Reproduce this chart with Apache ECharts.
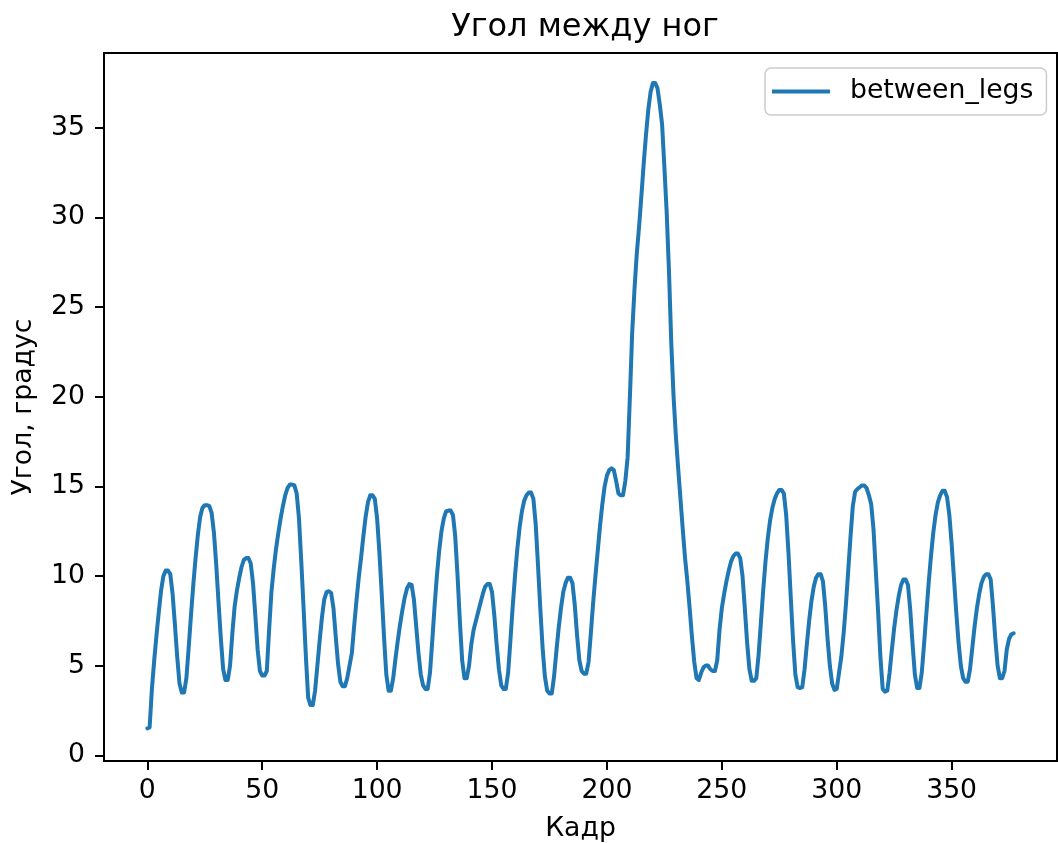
<!DOCTYPE html>
<html>
<head>
<meta charset="utf-8">
<script src="https://cdn.jsdelivr.net/npm/echarts@6/dist/echarts.min.js"></script>
<style>
  html, body { margin: 0; padding: 0; background: #fff; }
  #chart { width: 1058px; height: 843px; }
</style>
</head>
<body>
<div id="chart"></div>
<script>
// Angle between the legs, degrees, per frame (frames 0..377)
const betweenLegs = [
  1.5, 1.55, 3.7, 5.3, 6.7, 8.0, 9.2, 10.0, 10.3, 10.3,
  10.1, 9.0, 7.3, 5.5, 4.0, 3.5, 3.5, 4.3, 6.0, 7.8,
  9.5, 11.0, 12.3, 13.3, 13.8, 13.95, 13.95, 13.9, 13.5, 12.4,
  10.6, 8.5, 6.5, 4.8, 4.2, 4.2, 5.0, 6.8, 8.3, 9.2,
  9.9, 10.5, 10.9, 11.0, 11.0, 10.7, 9.6, 7.8, 5.9, 4.7,
  4.45, 4.45, 4.7, 7.0, 9.1, 10.4, 11.5, 12.4, 13.2, 13.9,
  14.5, 14.9, 15.1, 15.1, 15.05, 14.6, 13.2, 10.8, 8.2, 5.5,
  3.2, 2.8, 2.8, 3.6, 5.0, 6.4, 7.7, 8.7, 9.1, 9.15,
  9.05, 8.2, 6.6, 5.1, 4.1, 3.85, 3.85, 4.3, 5.0, 5.7,
  7.2, 8.6, 9.9, 11.0, 12.2, 13.3, 14.1, 14.5, 14.5, 14.3,
  13.2, 11.3, 9.0, 6.6, 4.5, 3.6, 3.6, 4.3, 5.4, 6.4,
  7.3, 8.1, 8.8, 9.3, 9.55, 9.5, 8.7, 7.2, 5.7, 4.5,
  3.9, 3.7, 3.7, 4.6, 6.4, 8.3, 10.0, 11.4, 12.5, 13.2,
  13.6, 13.65, 13.65, 13.4, 12.2, 10.0, 7.5, 5.3, 4.3, 4.3,
  5.0, 6.2, 7.0, 7.5, 8.0, 8.5, 9.0, 9.4, 9.55, 9.55,
  9.1, 7.8, 6.2, 4.8, 3.9, 3.7, 3.7, 4.6, 6.4, 8.3,
  10.0, 11.5, 12.7, 13.6, 14.2, 14.5, 14.65, 14.65, 14.3, 12.9,
  10.6, 8.2, 6.0, 4.4, 3.6, 3.45, 3.45, 4.4, 5.8, 7.1,
  8.2, 9.1, 9.6, 9.9, 9.9, 9.6, 8.4, 6.7, 5.3, 4.7,
  4.55, 4.55, 5.2, 6.8, 8.5, 10.0, 11.4, 12.8, 14.0, 15.0,
  15.6, 15.9, 16.0, 15.9, 15.3, 14.6, 14.5, 14.5, 15.3, 16.6,
  20.0, 23.6, 26.0, 28.0, 29.5, 31.2, 33.0, 34.6, 36.0, 37.0,
  37.5, 37.5, 37.2, 36.3, 35.2, 32.8, 30.3, 27.0, 23.0, 20.0,
  17.8, 16.0, 14.3, 12.6, 11.0, 9.7, 8.2, 6.6, 5.2, 4.3,
  4.2, 4.6, 4.9, 5.0, 5.0, 4.8, 4.7, 4.7, 5.3, 7.0,
  8.2, 9.0, 9.7, 10.3, 10.8, 11.1, 11.25, 11.25, 11.0, 10.0,
  8.2, 6.3, 4.8, 4.15, 4.15, 4.3, 5.6, 7.4, 9.2, 10.8,
  12.1, 13.1, 13.8, 14.3, 14.6, 14.8, 14.8, 14.6, 13.4, 11.3,
  8.8, 6.4, 4.5, 3.8, 3.75, 3.8, 4.8, 6.2, 7.5, 8.6,
  9.4, 9.9, 10.1, 10.1, 9.7, 8.3, 6.5, 5.0, 4.0, 3.65,
  3.7, 4.6, 5.5, 6.8, 8.4, 10.3, 12.2, 13.9, 14.7, 14.85,
  14.95, 15.05, 15.05, 14.9, 14.5, 14.0, 12.6, 10.3, 8.0, 5.5,
  3.7, 3.55, 3.6, 4.6, 5.9, 7.1, 8.1, 8.9, 9.5, 9.8,
  9.8, 9.5, 8.1, 6.2, 4.5, 3.75, 3.75, 4.6, 6.2, 7.9,
  9.6, 11.1, 12.4, 13.4, 14.1, 14.5, 14.75, 14.75, 14.4, 13.4,
  11.8, 9.9, 8.0, 6.3, 5.0, 4.3, 4.1, 4.1, 4.8, 6.0,
  7.2, 8.2, 9.0, 9.6, 9.95, 10.1, 10.1, 9.8, 8.3, 6.5,
  5.0, 4.3, 4.3, 4.7, 5.9, 6.5, 6.75, 6.8
];

// Tick positions
const xTicks = [0, 50, 100, 150, 200, 250, 300, 350];
const yTicks = [0, 5, 10, 15, 20, 25, 30, 35];

const FONT = 'DejaVu Sans';
const BLUE = '#1f77b4';

const chart = echarts.init(document.getElementById('chart'), null, { renderer: 'canvas' });

const tickStyle = { show: true, inside: false, length: 9, lineStyle: { color: '#000', width: 2 } };

chart.setOption({
  animation: false,
  backgroundColor: '#fff',
  title: {
    text: 'Угол между ног',
    left: 580, textAlign: 'center',
    top: 7,
    textStyle: { fontFamily: FONT, fontSize: 32, fontWeight: 'normal', color: '#000' }
  },
  legend: {
    data: [{ name: 'between_legs', icon: 'rect' }],
    left: 765, top: 68,
    padding: [10, 13, 10, 7],
    itemWidth: 58, itemHeight: 4,
    itemStyle: { color: BLUE, borderWidth: 0 },
    backgroundColor: 'rgba(255,255,255,0.8)',
    borderColor: '#cccccc', borderWidth: 1.5, borderRadius: 6,
    textStyle: { fontFamily: FONT, fontSize: 26.7, color: '#000', padding: [0, 0, 0, 15] }
  },
  grid: {
    left: 104, right: 1, top: 53, bottom: 82,
    outerBoundsMode: 'none',
    containLabel: false,
    show: true, borderColor: '#000', borderWidth: 2, backgroundColor: 'transparent'
  },
  xAxis: {
    type: 'value',
    min: -18.85, max: 395.85,
    name: 'Кадр', nameLocation: 'middle', nameGap: 55,
    nameTextStyle: { fontFamily: FONT, fontSize: 26.7, color: '#000' },
    splitLine: { show: false },
    axisLine: { show: true, onZero: false, lineStyle: { color: '#000', width: 2 } },
    axisTick: Object.assign({ customValues: xTicks }, tickStyle),
    axisLabel: {
      customValues: xTicks, margin: 17,
      fontFamily: FONT, fontSize: 26.7, color: '#000'
    }
  },
  yAxis: {
    type: 'value',
    min: -0.32, max: 39.17,
    name: 'Угол, градус', nameLocation: 'middle', nameGap: 66, nameRotate: 90,
    nameTextStyle: { fontFamily: FONT, fontSize: 26.7, color: '#000' },
    splitLine: { show: false },
    axisLine: { show: true, onZero: false, lineStyle: { color: '#000', width: 2 } },
    axisTick: Object.assign({ customValues: yTicks }, tickStyle),
    axisLabel: {
      customValues: yTicks, margin: 19,
      fontFamily: FONT, fontSize: 26.7, color: '#000'
    }
  },
  series: [{
    name: 'between_legs',
    type: 'line',
    symbol: 'none',
    data: betweenLegs.map((v, i) => [i, v]),
    lineStyle: { color: BLUE, width: 4, join: 'round', cap: 'round' },
    itemStyle: { color: BLUE }
  }]
});
</script>
</body>
</html>
